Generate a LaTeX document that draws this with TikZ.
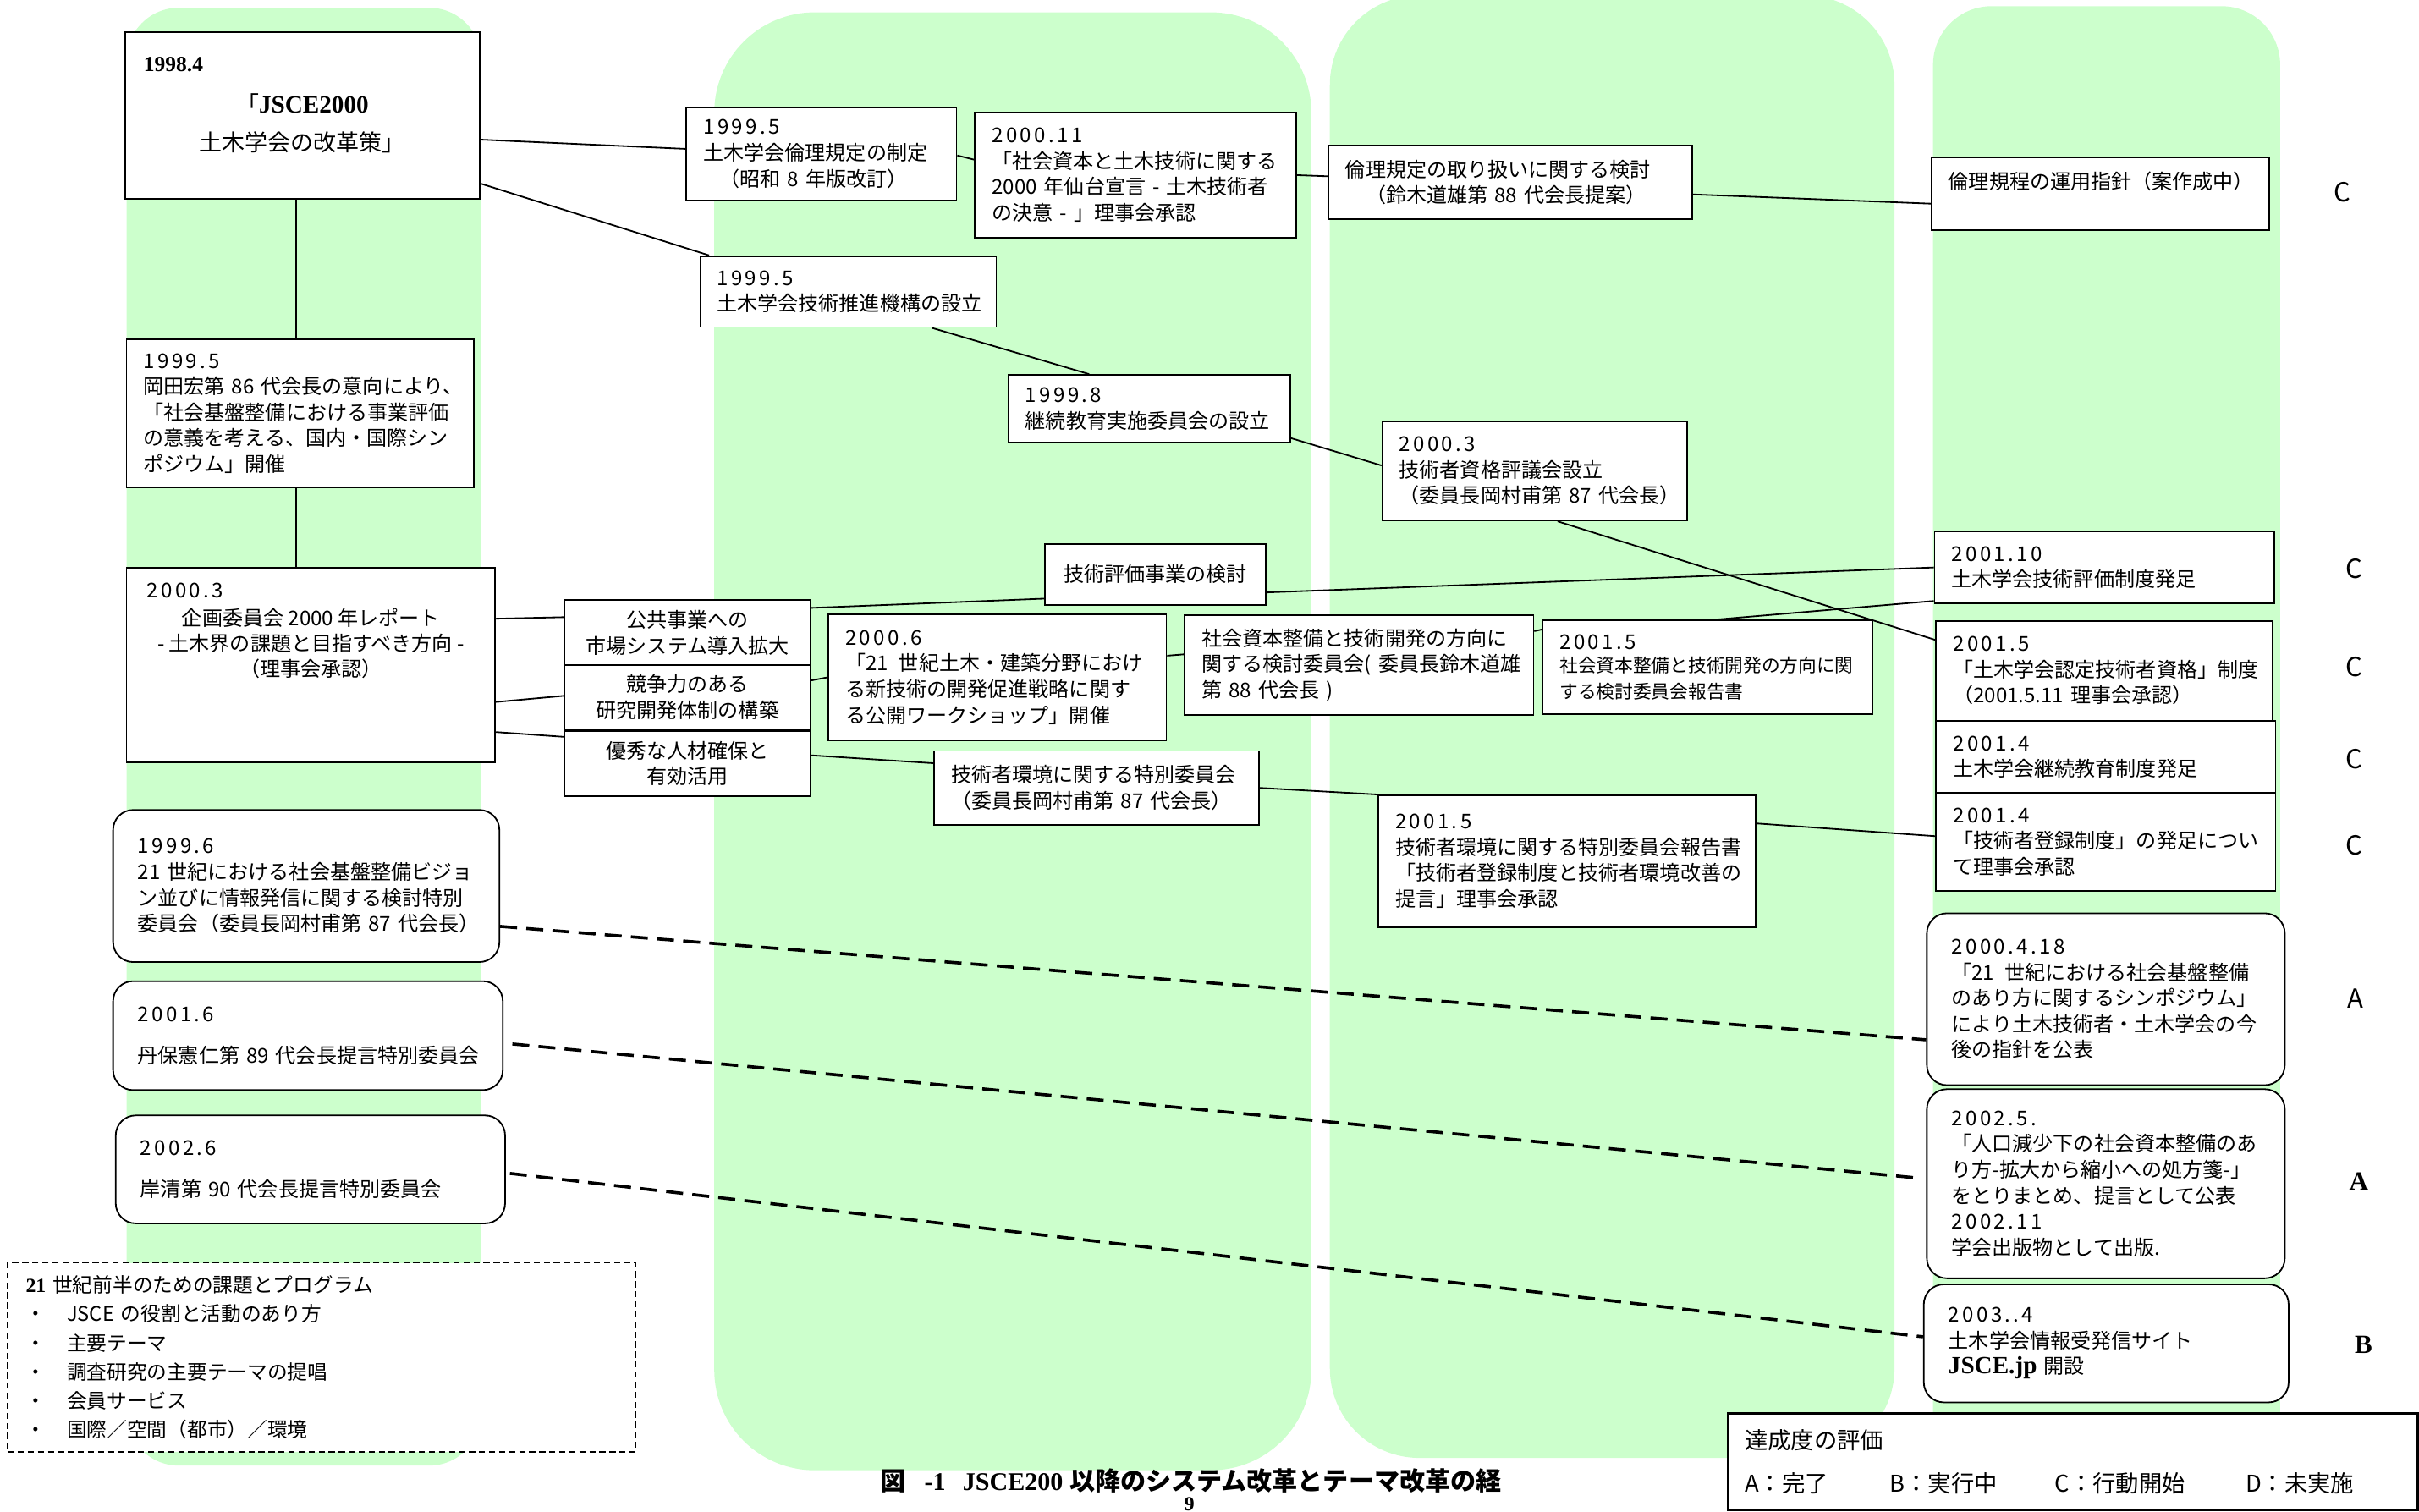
\documentclass[tikz,border=0pt]{standalone}
\usepackage{fontspec}
\setmainfont{Liberation Serif}
\newfontfamily\jp{Noto Sans CJK JP}
\newfontfamily\jpd[LetterSpace=14]{Noto Sans CJK JP}
\definecolor{colgreen}{HTML}{CCFFCC}
\newcommand{\bx}{\jp\fontsize{13.2}{16.8}\selectfont}
\newcommand{\sbx}{\jp\fontsize{11.9}{14.7}\selectfont}
\newcommand{\dt}[1]{{\jpd #1}}

\tikzset{
  col/.style={fill=colgreen, draw=none},
  box/.style={draw, fill=white, line width=1pt, inner xsep=11pt, inner ysep=0pt, align=left, font=\bx},
  rbox/.style={box, rounded corners=13pt, inner xsep=16pt},
  cbox/.style={box, align=center},
  txt/.style={inner sep=0pt},
  link/.style={line width=1pt},
  dlink/.style={line width=2pt, dash pattern=on 11pt off 6pt},
  grade/.style={font=\jp\fontsize{17}{17}\selectfont},
  gradeb/.style={font=\bfseries\fontsize{17}{17}\selectfont}
}

\begin{document}
\begin{tikzpicture}[x=1pt, y=-1pt]
\useasboundingbox (0,0) rectangle (1568,980);

% background columns
\fill[col, rounded corners=34pt] (82,5) rectangle (312,950);
\fill[col, rounded corners=65pt] (463,8) rectangle (850,953);
\fill[col, rounded corners=58pt] (862,-3) rectangle (1228,945);
\fill[col, rounded corners=38pt] (1253,4) rectangle (1478,962);

% first column
\node[box, minimum width=230pt, minimum height=108pt] (plan) at (196,75) {};
\node[txt, anchor=west, font=\bfseries\fontsize{14}{14}\selectfont] (plandate) at (93,42) {1998.4};
\node[txt, align=center, font=\jp\fontsize{14.8}{25}\selectfont] (plantitle) at (196,80) {「{\rmfamily\bfseries\fontsize{16}{25}\selectfont JSCE2000}\\土木学会の改革策」};
\node[box, text width=203pt, minimum height=96pt] (shinpo) at (194.5,268) {\dt{1999.5}\\岡田宏第~86~代会長の意向により、\\「社会基盤整備における事業評価\\の意義を考える、国内・国際シン\\ポジウム」開催};
\node[box, minimum width=239pt, minimum height=126pt] (report) at (201.5,431) {};
\node[txt, anchor=west, font=\bx] (reportdate) at (95,383) {\dt{2000.3}};
\node[txt, align=center, font=\jp\fontsize{13.2}{16.3}\selectfont] (reporttitle) at (201.5,417) {企画委員会~2000~年レポート\\-~土木界の課題と目指すべき方向~-\\（理事会承認）};
\node[cbox, text width=137.5pt, minimum height=42pt] (market) at (445.75,410) {公共事業への\\市場システム導入拡大};
\node[cbox, text width=137.5pt, minimum height=42pt] (research) at (445.75,452) {競争力のある\\研究開発体制の構築};
\node[cbox, text width=137.5pt, minimum height=42pt] (talent) at (445.75,495) {優秀な人材確保と\\有効活用};
\node[rbox, text width=218.4pt, minimum height=98.6pt] (vision) at (198.5,574.3) {\dt{1999.6}\\21~世紀における社会基盤整備ビジョ\\ン並びに情報発信に関する検討特別\\委員会（委員長岡村甫第~87~代会長）};
\node[rbox, text width=220.6pt, minimum height=70.6pt] (tanpo) at (199.6,671.3) {\dt{2001.6}\\[10pt]丹保憲仁第~89~代会長提言特別委員会};
\node[rbox, text width=220.4pt, minimum height=70pt] (kishi) at (201.2,758) {\dt{2002.6}\\[10pt]岸清第~90~代会長提言特別委員会};
\node[draw, fill=white, line width=0.8pt, dash pattern=on 4pt off 2.5pt, inner xsep=11.8pt, inner ysep=0pt, text width=383.4pt, minimum height=122.4pt, align=left, font=\jp\fontsize{13}{18.7}\selectfont] (program) at (208.5,879.8) {{\rmfamily\bfseries 21}~世紀前半のための課題とプログラム\\\makebox[26.6pt][l]{・}JSCE~の役割と活動のあり方\\\makebox[26.6pt][l]{・}主要テーマ\\\makebox[26.6pt][l]{・}調査研究の主要テーマの提唱\\\makebox[26.6pt][l]{・}会員サービス\\\makebox[26.6pt][l]{・}国際／空間（都市）／環境};

% second column
\node[box, text width=153pt, minimum height=60.5pt] (ethics) at (532.5,99.75) {\dt{1999.5}\\土木学会倫理規定の制定\\\hspace*{0.8em}（昭和~8~年版改訂）};
\node[box, text width=170pt, minimum height=46pt] (tech) at (549.8,189) {\dt{1999.5}\\土木学会技術推進機構の設立};
\node[box, text width=186pt, minimum height=81pt] (sendai) at (736,113.5) {\dt{2000.11}\\「社会資本と土木技術に関する\\2000~年仙台宣言~-~土木技術者\\の決意~-~」理事会承認};
\node[box, text width=160.7pt, minimum height=44pt] (cpdcom) at (745,265) {\dt{1999.8}\\継続教育実施委員会の設立};
\node[cbox, text width=121pt, minimum height=39.4pt] (evalstudy) at (749,372.3) {技術評価事業の検討};
\node[box, text width=197pt, minimum height=82pt] (ws) at (646.5,439) {\dt{2000.6}\\「21\,~世紀土木・建築分野におけ\\る新技術の開発促進戦略に関す\\る公開ワークショップ」開催};
\node[box, text width=188.5pt, minimum height=48pt] (envcom) at (710.75,510.7) {技術者環境に関する特別委員会\\（委員長岡村甫第~87~代会長）};

% third column
\node[box, text width=214pt, minimum height=47.5pt] (ethicsrev) at (979,118.25) {倫理規定の取り扱いに関する検討\\\hspace*{1em}（鈴木道雄第~88~代会長提案）};
\node[box, text width=175.6pt, minimum height=64.4pt] (qualcouncil) at (994.8,305.2) {\dt{2000.3}\\技術者資格評議会設立\\（委員長岡村甫第~87~代会長）};
\node[box, text width=204pt, minimum height=64.8pt] (capcom) at (881,431.1) {社会資本整備と技術開発の方向に\\関する検討委員会(~委員長鈴木道雄\\第~88~代会長~)};
\node[box, text width=192pt, minimum height=61pt] (capreport) at (1107,432.5) {\dt{2001.5}\\\sbx 社会資本整備と技術開発の方向に関\\する検討委員会報告書};
\node[box, text width=222.6pt, minimum height=85.5pt] (envreport) at (1015.7,558.25) {\dt{2001.5}\\技術者環境に関する特別委員会報告書\\「技術者登録制度と技術者環境改善の\\提言」理事会承認};

% fourth column
\node[box, text width=197pt, minimum height=47pt] (guide) at (1361.5,125.5) {倫理規程の運用指針（案作成中）\\\mbox{}};
\node[box, text width=198pt, minimum height=46.4pt] (evalsys) at (1364,367.8) {\dt{2001.10}\\土木学会技術評価制度発足};
\node[box, text width=196pt, minimum height=64.5pt] (qualsys) at (1364,434.75) {\dt{2001.5}\\「土木学会認定技術者資格」制度\\（2001.5.11~理事会承認）};
\node[box, text width=198pt, minimum height=46.7pt] (cpdsys) at (1365,490.65) {\dt{2001.4}\\土木学会継続教育制度発足};
\node[box, text width=198pt, minimum height=63.6pt] (regsys) at (1365,545.8) {\dt{2001.4}\\「技術者登録制度」の発足につい\\て理事会承認};
\node[rbox, text width=200pt, minimum height=111.4pt] (sympo) at (1365,647.7) {\dt{2000.4.18}\\「21\,~世紀における社会基盤整備\\のあり方に関するシンポジウム」\\により土木技術者・土木学会の今\\後の指針を公表};
\node[rbox, text width=200pt, minimum height=122.6pt] (proposal) at (1365,767.3) {\dt{2002.5.}\\「人口減少下の社会資本整備のあ\\り方-拡大から縮小への処方箋-」\\をとりまとめ、提言として公表\\\dt{2002.11}\\学会出版物として出版.};
\node[rbox, text width=204.5pt, minimum height=76.5pt] (jsceweb) at (1365.25,870.75) {\dt{2003..4}\\土木学会情報受発信サイト\\{\rmfamily\bfseries\fontsize{16}{18.5}\selectfont JSCE.jp}~開設};

% grades
\node[grade] (gguide) at (1518.4,124.3) {C};
\node[grade] (gevalsys) at (1526,368.5) {C};
\node[grade] (gqualsys) at (1526,432) {C};
\node[grade] (gcpdsys) at (1526,492) {C};
\node[grade] (gregsys) at (1526,548) {C};
\node[grade] (gsympo) at (1527,647) {A};
\node[gradeb] (gproposal) at (1529,766) {A};
\node[gradeb] (gjsceweb) at (1532,871.5) {B};

% legend and caption
\node[draw, fill=white, line width=1.5pt, inner xsep=11pt, inner ysep=0pt, text width=425pt, minimum height=63pt, align=left, font=\jp\fontsize{15}{27.6}\selectfont] (legend) at (1343.5,947.5) {達成度の評価\\\makebox[94pt][l]{A：完了}\makebox[107pt][l]{B：実行中}\makebox[123.6pt][l]{C：行動開始}D：未実施};
\node[font=\bfseries\fontsize{16.5}{16.5}\selectfont] (caption) at (772,960) {{\jp\bfseries 図}\hspace{12pt}-1\hspace{11pt}JSCE200~{\jp\bfseries 以降のシステム改革とテーマ改革の経}};
\node[font=\bfseries\fontsize{13}{13}\selectfont] (pageno) at (771,975) {9};

% connectors
\draw[link] ([yshift=-15.5pt]plan.east) -- ([yshift=3.25pt]ethics.west);
\draw[link] ([yshift=-44pt]plan.east) -- ([xshift=-90.2pt]tech.north);
\draw[link] ([yshift=-1pt]ethics.east) -- ([yshift=10pt]sendai.west);
\draw[link] (sendai.east) -- ([yshift=4pt]ethicsrev.west);
\draw[link] ([yshift=-7.75pt]ethicsrev.east) -- ([yshift=-6.5pt]guide.west);
\draw[link] ([xshift=-4pt]plan.south) -- ([xshift=-2.5pt]shinpo.north);
\draw[link] ([xshift=-2.5pt]shinpo.south) -- ([xshift=-9.5pt]report.north);
\draw[link] ([yshift=30pt]report.east) -- ([yshift=10pt]market.west);
\draw[link] ([yshift=-24pt]report.east) -- ([yshift=1pt]research.west);
\draw[link] ([yshift=-43.5pt]report.east) -- ([yshift=17.4pt]talent.west);
\draw[link] ([yshift=16pt]market.east) -- ([yshift=-15.7pt]evalstudy.west);
\draw[link] ([yshift=-11.7pt]evalstudy.east) -- (evalsys.west);
\draw[link] ([yshift=11pt]research.east) -- (ws.west);
\draw[link] ([yshift=14pt]ws.east) -- ([yshift=7pt]capcom.west);
\draw[link] ([yshift=22pt]capcom.east) -- ([yshift=24.5pt]capreport.west);
\draw[link] ([xshift=6pt]capreport.north) -- ([yshift=2pt]evalsys.south west);
\draw[link] ([yshift=5.4pt]talent.east) -- ([yshift=16pt]envcom.west);
\draw[link] (envcom.east) -- (envreport.north west);
\draw[link] ([yshift=24.5pt]envreport.east) -- ([yshift=3.8pt]regsys.west);
\draw[link] ([xshift=54.2pt]tech.south) -- ([xshift=-39pt]cpdcom.north);
\draw[link] ([yshift=-19pt]cpdcom.east) -- ([yshift=3.5pt]qualcouncil.west);
\draw[link] ([xshift=14.8pt]qualcouncil.south) -- ([yshift=20pt]qualsys.west);
\draw[dlink] ([yshift=-26.2pt]vision.east) -- ([yshift=-26.3pt]sympo.west);
\draw[dlink] ([xshift=5.7pt, yshift=-5.4pt]tanpo.east) -- ([xshift=-6pt, yshift=3.8pt]proposal.west);
\draw[dlink] ([xshift=2.6pt, yshift=-2.6pt]kishi.east) -- ([yshift=4.25pt]jsceweb.west);

\end{tikzpicture}
\end{document}
